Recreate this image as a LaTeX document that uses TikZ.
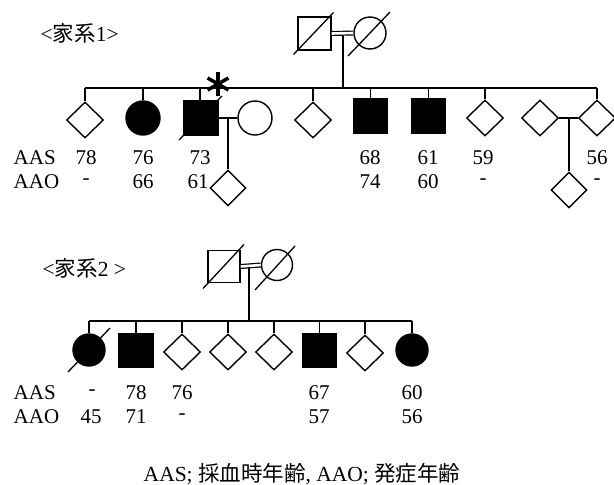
\documentclass[tikz,border=0pt]{standalone}
\usepackage{fontspec}
\setmainfont{Liberation Serif}
\newfontfamily\jp{Noto Sans CJK JP}
\usetikzlibrary{shapes.geometric,calc}
\begin{document}
\begin{tikzpicture}[x=1pt,y=-1pt,line width=1.4pt,
  sq/.style={draw,rectangle,minimum size=33pt,inner sep=0pt},
  ci/.style={draw,circle,minimum size=32pt,inner sep=0pt},
  dm/.style={draw,diamond,minimum width=37pt,minimum height=36pt,inner sep=0pt},
  aff/.style={fill=black},
  lbl/.style={font=\fontsize{21}{24}\selectfont,inner sep=0pt},
  ttl/.style={font=\fontsize{21.5}{26}\selectfont,inner sep=0pt,anchor=west},
  mar/.style={double,double distance=2.6pt,line width=1.2pt},
  dead/.style={line width=1.3pt}]
\useasboundingbox (0,0) rectangle (614,485);
\fill[white] (0,0) rectangle (614,485);

% ---------------- Family 1 ----------------
\node[ttl] (t1) at (40,33) {<{\jp 家系}1>};
\node[sq] (gf1) at (314.5,33.5) {};
\node[ci] (gm1) at (370,33) {};
\draw[dead] ($(gf1.center)+(-21,21)$) -- ($(gf1.center)+(19,-21)$);
\draw[dead] ($(gm1.center)+(-22,23)$) -- ($(gm1.center)+(20,-21)$);
\draw[mar] (gf1.east) -- (gm1.west);
\coordinate (m1) at (343,35);
\coordinate (s1) at (343,88);
\draw (m1) -- (s1);

\node[dm] (c1) at (85,120) {};
\node[ci,aff,minimum size=34pt] (c2) at (143,118) {};
\node[sq,aff,minimum size=34pt] (c3) at (201,118) {};
\node[ci,minimum size=34pt] (sp3) at (255,118) {};
\node[dm,minimum width=36pt,minimum height=36pt] (g3) at (228,188) {};
\node[dm] (c4) at (313,120) {};
\node[sq,aff,minimum size=34pt] (c5) at (370.5,116) {};
\node[sq,aff,minimum size=34pt] (c6) at (428.5,116) {};
\node[dm] (c7) at (485,118) {};
\node[dm] (sp8) at (540,118) {};
\node[dm] (c8) at (597,118) {};
\node[dm,minimum width=36pt,minimum height=36pt] (g8) at (569,190) {};

\draw (c1.north |- s1) -- (c8.north |- s1);
\foreach \n in {c1,c2,c4,c5,c6,c7,c8} \draw (\n.north) -- (\n.north |- s1);
\draw (200,101) -- (200,88);
% deceased slash through proband
\draw[dead] ($(c3.center)+(-22,22)$) -- ($(c3.center)+(21,-22)$);
% asterisk
\coordinate (ast) at (218,84);
\foreach \a in {90,30,150,210,330,270}
  \draw[line width=3.5pt] (ast) -- ++(\a:12);
% marriage + offspring
\draw (c3.east) -- (sp3.west);
\coordinate (m3) at (228,118);
\draw (m3) -- (g3.north);
\draw (sp8.east) -- (c8.west);
\coordinate (m8) at (569,118);
\draw (m8) -- (g8.north);

% labels family 1
\node[lbl,anchor=west] (aas1) at (13,158) {AAS};
\node[lbl,anchor=west] (aao1) at (13,182) {AAO};
\foreach \x/\t in {86/78,143/76,200/73,370/68,428/61,483/59,597/56}
  \node[lbl] at (\x,158) {\t};
\foreach \x/\t in {86/-,143/66,198/61,370/74,428/60,483/-,597/-}
  \node[lbl] at (\x,182) {\t};

% ---------------- Family 2 ----------------
\node[ttl] (t2) at (42,268) {<{\jp 家系}2 >};
\node[sq,minimum size=32pt] (gf2) at (224,266.5) {};
\node[ci,minimum size=31pt] (gm2) at (277,265) {};
\draw[dead] ($(gf2.center)+(-21,22)$) -- ($(gf2.center)+(20,-22)$);
\draw[dead] ($(gm2.center)+(-22,25)$) -- ($(gm2.center)+(18,-19)$);
\draw[mar] (gf2.east) -- (gm2.west);
\coordinate (m2) at (249,267);
\coordinate (s2) at (249,321);
\draw (m2) -- (s2);

\node[ci,aff] (d1) at (89,350) {};
\node[sq,aff,minimum size=34pt] (d2) at (136,350.5) {};
\node[dm] (d3) at (182,352) {};
\node[dm] (d4) at (228,352) {};
\node[dm] (d5) at (274,352) {};
\node[sq,aff,minimum size=34pt] (d6) at (319.5,350.5) {};
\node[dm] (d7) at (365,353) {};
\node[ci,aff] (d8) at (412,350) {};
\draw[dead] ($(d1.center)+(-21,22)$) -- ($(d1.center)+(21,-22)$);

\draw (d1.north |- s2) -- (d8.north |- s2);
\foreach \n in {d1,d2,d3,d4,d5,d6,d7,d8} \draw (\n.north) -- (\n.north |- s2);

% labels family 2
\node[lbl,anchor=west] (aas2) at (13,393) {AAS};
\node[lbl,anchor=west] (aao2) at (13,417) {AAO};
\foreach \x/\t in {92/-,136/78,182/76,319/67,412/60}
  \node[lbl] at (\x,393) {\t};
\foreach \x/\t in {91/45,136/71,182/-,319/57,412/56}
  \node[lbl] at (\x,417) {\t};

% caption
\node[font=\fontsize{21.5}{26}\selectfont,inner sep=0pt] (cap) at (302,474)
  {AAS; {\jp 採血時年齢}, AAO; {\jp 発症年齢}};
\end{tikzpicture}
\end{document}
